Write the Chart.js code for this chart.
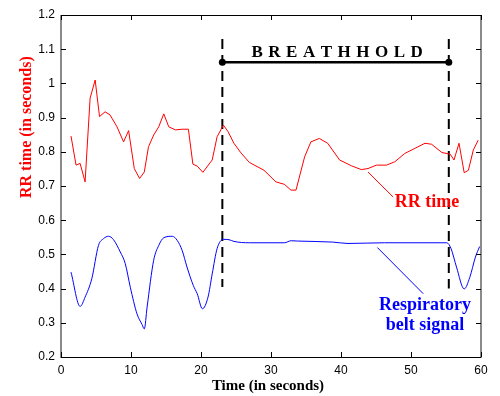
<!DOCTYPE html>
<html>
<head>
<meta charset="utf-8">
<script src="https://cdn.jsdelivr.net/npm/chart.js@4.4.1/dist/chart.umd.min.js"></script>
<style>
  html, body { margin: 0; padding: 0; background: #ffffff; }
  #wrap { width: 500px; height: 396px; position: relative; }
</style>
</head>
<body>
<div id="wrap"><canvas id="c" width="500" height="396"></canvas></div>
<script>
// ---- Data ----
const rrTime = [1.43, 2.15, 2.73, 3.44, 4.16, 4.88, 5.5, 6.3, 7.0, 8.0, 8.94, 9.66, 10.47, 11.23, 11.9, 12.5, 13.24, 13.96, 14.68, 15.4, 16.36, 17.3, 18.2, 18.84, 19.47, 20.27, 21.6, 22.3, 23.2, 23.86, 24.7, 25.7, 26.9, 29.0, 30.7, 31.9, 32.85, 33.57, 34.8, 35.7, 36.9, 38.1, 39.8, 41.5, 42.9, 43.86, 45.05, 46.5, 47.7, 49.1, 50.55, 52.0, 52.95, 54.4, 55.6, 56.14, 56.86, 57.6, 58.2, 58.9, 59.6];
const rrValues = [0.846, 0.761, 0.766, 0.712, 0.957, 1.01, 0.903, 0.917, 0.908, 0.873, 0.829, 0.862, 0.751, 0.722, 0.741, 0.815, 0.849, 0.873, 0.911, 0.873, 0.864, 0.866, 0.866, 0.764, 0.758, 0.74, 0.776, 0.844, 0.878, 0.859, 0.825, 0.797, 0.769, 0.746, 0.712, 0.705, 0.688, 0.688, 0.785, 0.829, 0.839, 0.825, 0.776, 0.759, 0.748, 0.751, 0.761, 0.761, 0.771, 0.795, 0.81, 0.825, 0.822, 0.798, 0.793, 0.776, 0.825, 0.739, 0.746, 0.805, 0.834];

const beltTime = [1.43, 2.73, 3.44, 4.4, 5.35, 6.07, 6.8, 7.5, 8.47, 9.18, 9.9, 10.86, 11.58, 11.9, 12.3, 13.24, 13.96, 14.7, 15.9, 16.6, 17.3, 18.0, 18.9, 19.46, 20.2, 21.0, 21.6, 22.3, 23.2, 24.0, 24.7, 26.9, 31.9, 32.9, 33.8, 38.8, 41.0, 46.2, 55.1, 55.7, 56.5, 57.6, 58.4, 59.2, 59.8];
const beltValues = [0.448, 0.348, 0.375, 0.429, 0.526, 0.546, 0.553, 0.543, 0.507, 0.473, 0.404, 0.326, 0.295, 0.282, 0.346, 0.483, 0.526, 0.549, 0.553, 0.541, 0.512, 0.463, 0.409, 0.385, 0.341, 0.375, 0.443, 0.517, 0.544, 0.543, 0.538, 0.534, 0.534, 0.540, 0.539, 0.536, 0.532, 0.534, 0.534, 0.518, 0.463, 0.399, 0.433, 0.492, 0.523];

// breath-hold markers
const holdStart = 23.05;
const holdEnd = 55.4;
const holdBarLevel = 1.062;
const dashTop = 1.13;
const dashBottomStart = 0.405;
const dashBottomEnd = 0.40;

// axis ticks
const xTicks = [0, 10, 20, 30, 40, 50, 60];
const yTicks = [0.2, 0.3, 0.4, 0.5, 0.6, 0.7, 0.8, 0.9, 1.0, 1.1, 1.2];

// text
const xTitle = 'Time (in seconds)';
const yTitle = 'RR time (in seconds)';
const holdLabel = 'BREATHHOLD';
const rrLabel = 'RR time';
const beltLabel = ['Respiratory', 'belt signal'];

// annotation anchor points (data units)
const rrPointer = [[43.86, 0.741], [47.44, 0.668]];
const rrLabelAt = [52.3, 0.653];
const beltPointer = [[45.2, 0.52], [51.75, 0.385]];
const beltLabelAt = [[52.0, 0.35], [52.0, 0.292]];
const holdLabelAt = [39.45, 1.09];
const yTitleCenter = 0.872;

const toXY = (xs, ys) => xs.map((x, i) => ({ x: x, y: ys[i] }));

const SERIF = "'Liberation Serif', 'Times New Roman', serif";
const SANS = "'Liberation Sans', Arial, sans-serif";

const framePlugin = {
  id: 'frame',
  afterDatasetsDraw(chart) {
    const ctx = chart.ctx;
    const a = chart.chartArea;
    const xs = chart.scales.x, ys = chart.scales.y;
    ctx.save();
    // frame
    ctx.lineWidth = 1;
    ctx.strokeStyle = '#000';
    ctx.beginPath();
    ctx.moveTo(a.left, a.top + 0.5); ctx.lineTo(a.right, a.top + 0.5);
    ctx.moveTo(a.left, a.bottom + 0.5); ctx.lineTo(a.right, a.bottom + 0.5);
    ctx.stroke();
    ctx.lineWidth = 2;
    ctx.strokeStyle = '#8a8a8a';
    ctx.beginPath();
    ctx.moveTo(a.left, a.top); ctx.lineTo(a.left, a.bottom + 1);
    ctx.moveTo(a.right, a.top); ctx.lineTo(a.right, a.bottom + 1);
    ctx.stroke();
    // inward ticks
    ctx.lineWidth = 1;
    ctx.strokeStyle = '#000';
    ctx.beginPath();
    xTicks.forEach(v => {
      const px = Math.round(xs.getPixelForValue(v)) + 0.5;
      ctx.moveTo(px, a.bottom); ctx.lineTo(px, a.bottom - 5);
      ctx.moveTo(px, a.top); ctx.lineTo(px, a.top + 5);
    });
    yTicks.forEach(v => {
      const py = Math.round(ys.getPixelForValue(v)) + 0.5;
      ctx.moveTo(a.left, py); ctx.lineTo(a.left + 5, py);
      ctx.moveTo(a.right, py); ctx.lineTo(a.right - 5, py);
    });
    ctx.stroke();

    // annotation pointers
    const P = (p) => [xs.getPixelForValue(p[0]), ys.getPixelForValue(p[1])];
    ctx.lineWidth = 1;
    ctx.strokeStyle = '#ff0000';
    ctx.beginPath();
    let p0 = P(rrPointer[0]), p1 = P(rrPointer[1]);
    ctx.moveTo(p0[0], p0[1]); ctx.lineTo(p1[0], p1[1]);
    ctx.stroke();
    ctx.strokeStyle = '#0000ff';
    ctx.beginPath();
    p0 = P(beltPointer[0]); p1 = P(beltPointer[1]);
    ctx.moveTo(p0[0], p0[1]); ctx.lineTo(p1[0], p1[1]);
    ctx.stroke();

    // annotation labels
    ctx.textAlign = 'center';
    ctx.textBaseline = 'middle';
    ctx.font = 'bold 18px ' + SERIF;
    ctx.fillStyle = '#ff0000';
    let t = P(rrLabelAt);
    ctx.fillText(rrLabel, t[0], t[1]);
    ctx.fillStyle = '#0000ff';
    beltLabel.forEach((s, i) => {
      const q = P(beltLabelAt[i]);
      ctx.fillText(s, q[0], q[1]);
    });

    // BREATHHOLD letter-spaced
    ctx.fillStyle = '#000';
    ctx.font = 'bold 17px ' + SERIF;
    const spacing = 5.5;
    const chars = holdLabel.split('');
    const widths = chars.map(c => ctx.measureText(c).width);
    const total = widths.reduce((s, w) => s + w, 0) + spacing * (chars.length - 1);
    const hc = P(holdLabelAt);
    let cx = hc[0] - total / 2;
    ctx.textAlign = 'left';
    chars.forEach((c, i) => { ctx.fillText(c, cx, hc[1]); cx += widths[i] + spacing; });

    // axis titles
    ctx.fillStyle = '#000';
    ctx.textAlign = 'center';
    ctx.font = 'bold 15px ' + SERIF;
    ctx.fillText(xTitle, (a.left + a.right) / 2 - 3, 386);
    ctx.save();
    ctx.translate(27, ys.getPixelForValue(yTitleCenter));
    ctx.rotate(-Math.PI / 2);
    ctx.fillStyle = '#ff0000';
    ctx.font = 'bold 16px ' + SERIF;
    ctx.fillText(yTitle, 0, 0);
    ctx.restore();
    ctx.restore();
  }
};

new Chart(document.getElementById('c'), {
  type: 'line',
  data: {
    datasets: [
      { label: 'RR time', data: toXY(rrTime, rrValues), borderColor: '#ff0000', borderWidth: 1, pointRadius: 0, tension: 0 },
      { label: 'Respiratory belt signal', data: toXY(beltTime, beltValues), borderColor: '#0000ff', borderWidth: 1, pointRadius: 0, cubicInterpolationMode: 'monotone' },
      { label: 'start', data: toXY([holdStart, holdStart], [dashTop, dashBottomStart]), borderColor: '#000', borderWidth: 2, borderDash: [10, 6], pointRadius: 0 },
      { label: 'end', data: toXY([holdEnd, holdEnd], [dashTop, dashBottomEnd]), borderColor: '#000', borderWidth: 2, borderDash: [10, 6], pointRadius: 0 },
      { label: 'hold', data: toXY([holdStart, holdEnd], [holdBarLevel, holdBarLevel]), borderColor: '#000', borderWidth: 2.5, pointRadius: 3.5, pointBackgroundColor: '#000', pointBorderColor: '#000', pointBorderWidth: 0 }
    ]
  },
  options: {
    responsive: false,
    animation: false,
    devicePixelRatio: 1,
    layout: { padding: { top: 15, right: 19, left: 0, bottom: 0 } },
    plugins: { legend: { display: false }, tooltip: { enabled: false } },
    scales: {
      x: {
        type: 'linear', min: 0, max: 60,
        afterFit: (s) => { s.height = 39; },
        afterBuildTicks: (s) => { s.ticks = xTicks.map(v => ({ value: v })); },
        grid: { display: false, drawTicks: false },
        border: { display: false },
        ticks: { padding: 6, color: '#000', font: { family: SANS, size: 12 }, maxRotation: 0, callback: (v) => String(v) }
      },
      y: {
        type: 'linear', min: 0.2, max: 1.2,
        afterFit: (s) => { s.width = 61; },
        afterBuildTicks: (s) => { s.ticks = yTicks.map(v => ({ value: v })); },
        grid: { display: false, drawTicks: false },
        border: { display: false },
        ticks: { padding: 6, color: '#000', font: { family: SANS, size: 12 }, callback: (v) => String(Number(v.toFixed(1))) }
      }
    }
  },
  plugins: [framePlugin]
});
</script>
</body>
</html>
